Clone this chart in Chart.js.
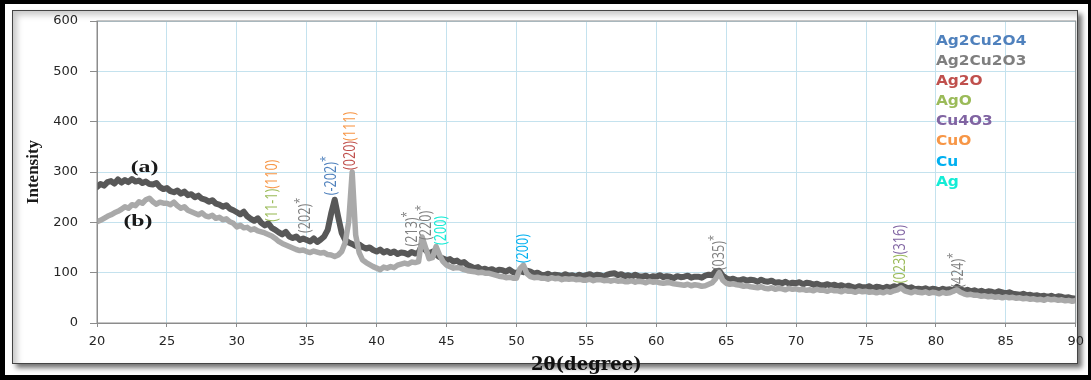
<!DOCTYPE html>
<html>
<head>
<meta charset="utf-8">
<script src="https://cdn.jsdelivr.net/npm/chart.js@4.4.1/dist/chart.umd.min.js"></script>
<style>
  body { margin: 0; background: #fff; }
  #outer { position: absolute; left: 0; top: 0; width: 1091px; height: 380px; box-sizing: border-box;
           border-style: solid; border-color: #000; border-width: 4px 3px 5px 5px; }
  #inner { position: absolute; left: 12px; top: 10px; width: 1066px; height: 354px; box-sizing: border-box;
           border: 1px solid #444; box-shadow: 4px 4px 5px rgba(0,0,0,0.55), inset 4px 4px 6px rgba(0,0,0,0.22); }
  #xrd { position: absolute; left: 0; top: 0; }
</style>
</head>
<body>
<div id="outer"></div>
<div id="inner"></div>
<canvas id="xrd" width="1091" height="380"></canvas>
<script>
// 2theta from 20 to 90 in 0.25 degree steps
const angles = [];
for (let a = 20; a <= 90; a += 0.25) angles.push(a);

// sample (a), dark curve
const intensityA = [
  270, 276, 273, 280,  282, 277, 285, 279,  284, 280, 286, 281,  283, 278, 281, 276,
  275, 278, 270, 266,  268, 262, 260, 263,  257, 261, 254, 256,  250, 253, 247, 245,
  241, 244, 237, 235,  231, 234, 227, 224,  220, 216, 221, 212,  207, 203, 208, 199,
  194, 198, 189, 185,  180, 176, 181, 172,  169, 172, 165, 168,  165, 162, 168, 161,
  166, 172, 185, 218,  245, 211, 179, 165,  160, 157, 153, 156,  151, 148, 150, 145,
  142, 146, 140, 143,  139, 142, 137, 140,  139, 136, 141, 138,  140, 155, 145, 138,
  142, 136, 131, 128,  125, 127, 122, 124,  119, 121, 115, 112,  109, 111, 106, 108,
  105, 107, 103, 106,  105, 102, 106, 101,  99, 103, 101, 104,  102, 98, 100, 96,
  95, 98, 94, 96,  95, 93, 97, 94,  95, 92, 96, 93,  95, 97, 93, 96,
  95, 92, 96, 98,  99, 95, 97, 93,  95, 92, 96, 93,  92, 94, 90, 93,
  92, 95, 91, 93,  92, 89, 93, 91,  92, 94, 90, 92,  92, 90, 94, 96,
  95, 103, 104, 94,  89, 86, 88, 85,  85, 87, 84, 86,  85, 82, 86, 83,
  82, 84, 80, 81,  79, 82, 78, 80,  79, 81, 77, 80,  79, 76, 78, 75,
  75, 77, 74, 76,  73, 75, 72, 74,  72, 70, 73, 71,  71, 73, 69, 72,
  71, 69, 72, 70,  73, 71, 75, 72,  69, 71, 67, 68,  67, 69, 66, 68,
  67, 65, 68, 66,  67, 65, 72, 68,  64, 66, 63, 65,  62, 64, 61, 63,
  62, 60, 63, 61,  59, 61, 58, 57,  56, 58, 55, 56,  54, 55, 53, 54,
  52, 54, 51, 53,  52, 50, 51, 49,  48
];

// sample (b), light curve
const intensityB = [
  201, 204, 208, 212,  215, 219, 222, 226,  231, 228, 235, 233,  241, 238, 245, 248,
  241, 236, 240, 238,  238, 235, 240, 233,  228, 231, 224, 221,  218, 215, 219, 213,
  211, 214, 208, 210,  205, 207, 201, 198,  191, 194, 189, 190,  185, 187, 183, 181,
  179, 176, 173, 168,  162, 158, 155, 152,  149, 146, 144, 145,  142, 140, 143, 141,
  139, 140, 136, 135,  132, 135, 142, 160,  200, 300, 175, 140,  125, 120, 116, 112,
  109, 106, 111, 109,  112, 110, 115, 117,  119, 117, 121, 120,  122, 171, 150, 128,
  130, 152, 135, 122,  115, 112, 109, 110,  109, 106, 104, 103,  102, 100, 101, 99,
  99, 97, 95, 93,  92, 90, 91, 89,  89, 108, 115, 98,  92, 90, 91, 89,
  89, 87, 90, 88,  89, 86, 88, 87,  88, 86, 87, 85,  85, 87, 84, 86,
  86, 84, 85, 83,  85, 83, 84, 82,  82, 84, 81, 83,  82, 80, 83, 81,
  82, 80, 79, 80,  80, 78, 77, 76,  75, 77, 74, 76,  75, 73, 74, 77,
  80, 88, 100, 85,  79, 77, 78, 76,  75, 73, 74, 72,  71, 70, 72, 69,
  68, 70, 67, 69,  68, 66, 69, 67,  68, 66, 67, 65,  66, 64, 67, 65,
  65, 63, 66, 64,  64, 62, 65, 63,  63, 61, 64, 62,  63, 61, 62, 60,
  62, 60, 63, 61,  64, 66, 70, 64,  62, 60, 63, 61,  60, 62, 59, 61,
  60, 58, 61, 59,  60, 63, 66, 61,  58, 56, 57, 55,  55, 53, 54, 52,
  53, 51, 52, 50,  52, 50, 51, 49,  50, 48, 49, 47,  48, 46, 47, 45,
  48, 46, 47, 45,  46, 44, 45, 43,  45
];

// phases (legend) and their colours
const phases = ["Ag2Cu2O4", "Ag2Cu2O3", "Ag2O", "AgO", "Cu4O3", "CuO", "Cu", "Ag"];
const phaseColors = ["#4f81bd", "#7f7f7f", "#c0504d", "#9bbb59", "#8064a2", "#f79646", "#00b0f0", "#14ecd6"];

// peak labels: angle, intensity where the label starts, text pieces and their phase
const peakAngles = [32.57, 34.93, 36.76, 38.12, 42.57, 43.55, 44.67, 50.5, 64.55, 77.47, 81.64];
const peakBases = [201, 179, 254, 304, 152, 165, 155, 119, 105, 79, 70];
const peakTexts = [["(11-1)", "(110)"], ["(202)*"], ["(-202)*"], ["(020)", "(111)"], ["(213)*"], ["(220)*"],
                   ["(200)"], ["(200)"], ["(035)*"], ["(023)", "(316)"], ["(424)*"]];
const peakPhases = [["AgO", "CuO"], ["Ag2Cu2O3"], ["Ag2Cu2O4"], ["Ag2O", "CuO"], ["Ag2Cu2O3"], ["Ag2Cu2O3"],
                    ["Ag"], ["Cu"], ["Ag2Cu2O3"], ["AgO", "Cu4O3"], ["Ag2Cu2O3"]];

// curve names
const sampleNames = ["(a)", "(b)"];
const sampleNamePos = [[23.4, 308], [22.93, 201]];

const annotations = {
  id: "annotations",
  afterDatasetsDraw(chart) {
    const {ctx, chartArea: area, scales: {x, y}} = chart;
    ctx.save();
    // plot area border
    ctx.strokeStyle = "#8c8c8c";
    ctx.lineWidth = 1;
    ctx.strokeRect(area.left, area.top, area.right - area.left, area.bottom - area.top);

    // legend text
    ctx.font = 'bold 14px "DejaVu Sans", sans-serif';
    ctx.textBaseline = "middle";
    ctx.textAlign = "left";
    phases.forEach((p, i) => {
      ctx.save();
      ctx.translate(x.getPixelForValue(80), y.getPixelForValue(560 - 40 * i));
      ctx.scale(1.1, 1);
      ctx.fillStyle = phaseColors[i];
      ctx.fillText(p, 0, 0);
      ctx.restore();
    });

    // peak labels, rotated
    peakAngles.forEach((ang, i) => {
      ctx.save();
      ctx.translate(x.getPixelForValue(ang), y.getPixelForValue(peakBases[i]));
      ctx.scale(1.1, 1);
      ctx.rotate(-Math.PI / 2);
      ctx.scale(0.9, 1);
      let pos = 0;
      peakTexts[i].forEach((t, j) => {
        ctx.fillStyle = phaseColors[phases.indexOf(peakPhases[i][j])];
        ctx.font = '14px "Open Sans", sans-serif';
        let body = t, star = false;
        if (t.endsWith("*")) { body = t.slice(0, -1); star = true; }
        ctx.fillText(body, pos, 0);
        pos += ctx.measureText(body).width;
        if (star) {
          ctx.font = '12px "Open Sans", sans-serif';
          ctx.fillText("*", pos, -5);
          pos += ctx.measureText("*").width;
        }
      });
      ctx.restore();
    });

    // (a) and (b)
    ctx.font = 'bold 17px "Liberation Serif", serif';
    ctx.fillStyle = "#1a1a1a";
    ctx.textAlign = "center";
    sampleNames.forEach((n, i) => {
      ctx.save();
      ctx.translate(x.getPixelForValue(sampleNamePos[i][0]), y.getPixelForValue(sampleNamePos[i][1]));
      ctx.scale(1.4, 1);
      ctx.fillText(n, 0, 0);
      ctx.restore();
    });
    ctx.restore();
  }
};

new Chart(document.getElementById("xrd"), {
  type: "line",
  data: {
    datasets: [
      {
        label: "(a)",
        data: angles.map((a, i) => ({x: a, y: intensityA[i]})),
        borderColor: "#585858",
        borderWidth: 6,
        pointRadius: 0,
        borderJoinStyle: "round",
        borderCapStyle: "round",
        order: 1
      },
      {
        label: "(b)",
        data: angles.map((a, i) => ({x: a, y: intensityB[i]})),
        borderColor: "#a9a9a9",
        borderWidth: 5.5,
        pointRadius: 0,
        borderJoinStyle: "round",
        borderCapStyle: "round",
        order: 0
      }
    ]
  },
  options: {
    responsive: false,
    animation: false,
    devicePixelRatio: 1,
    layout: { padding: { top: 21, right: 14, left: 0, bottom: 0 } },
    plugins: { legend: { display: false }, tooltip: { enabled: false } },
    scales: {
      x: {
        type: "linear",
        min: 20,
        max: 90,
        ticks: { stepSize: 5, color: "#262626", font: { family: "DejaVu Sans", size: 13 }, padding: 7, maxRotation: 0 },
        grid: { color: "#c4e2ee", tickLength: 4, tickColor: "#8c8c8c" },
        border: { color: "#8c8c8c" },
        title: { display: true, text: "2θ(degree)", color: "#111",
                 font: { family: "DejaVu Serif", size: 18, weight: "bold" }, padding: { top: 0, bottom: 4 } },
        afterFit(scale) { scale.height = 57; }
      },
      y: {
        min: 0,
        max: 600,
        ticks: { stepSize: 100, color: "#262626", font: { family: "DejaVu Sans", size: 13 }, padding: 12 },
        grid: { color: "#c4e2ee", tickLength: 7, tickColor: "#8c8c8c" },
        border: { color: "#8c8c8c" },
        title: { display: true, text: "Intensity", color: "#1a1a1a",
                 font: { family: "Liberation Serif", size: 17, weight: "bold" }, padding: { top: 23, bottom: 0 } },
        afterFit(scale) { scale.width = 97; }
      }
    }
  },
  plugins: [annotations]
});
</script>
</body>
</html>
